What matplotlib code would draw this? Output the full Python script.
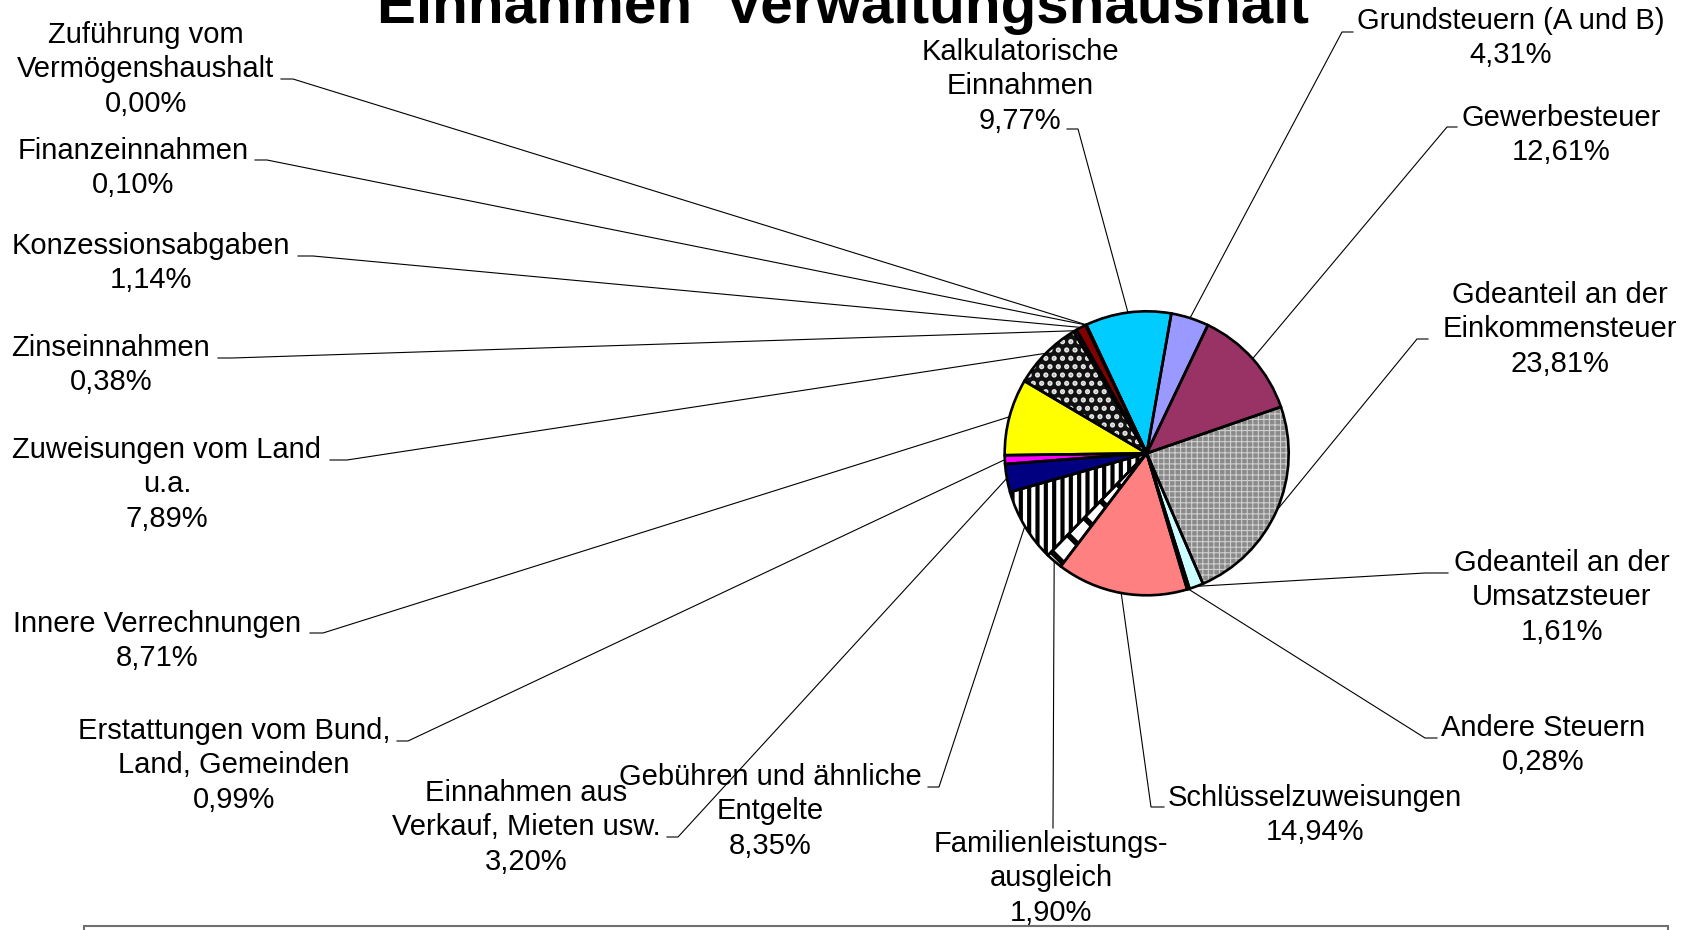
import matplotlib
matplotlib.use("Agg")
import matplotlib.pyplot as plt
from matplotlib.patches import Rectangle
import numpy as np

# ---- data (clockwise from the first slice) ----
categories = [
    "Grundsteuern (A und B)", "Gewerbesteuer", "Gdeanteil an der\nEinkommensteuer",
    "Gdeanteil an der\nUmsatzsteuer", "Andere Steuern", "Schlüsselzuweisungen",
    "Familienleistungs-\nausgleich", "Gebühren und ähnliche\nEntgelte",
    "Einnahmen aus\nVerkauf, Mieten usw.", "Erstattungen vom Bund,\nLand, Gemeinden",
    "Innere Verrechnungen", "Zuweisungen vom Land\nu.a.", "Zinseinnahmen",
    "Konzessionsabgaben", "Finanzeinnahmen", "Zuführung vom\nVermögenshaushalt",
    "Kalkulatorische\nEinnahmen",
]
values = [4.31, 12.61, 23.81, 1.61, 0.28, 14.94, 1.90, 8.35, 3.20, 0.99,
          8.71, 7.89, 0.38, 1.14, 0.10, 0.00, 9.77]
pct_labels = ["4,31%", "12,61%", "23,81%", "1,61%", "0,28%", "14,94%", "1,90%",
              "8,35%", "3,20%", "0,99%", "8,71%", "7,89%", "0,38%", "1,14%",
              "0,10%", "0,00%", "9,77%"]
title = "Einnahmen  Verwaltungshaushalt"

# ---- styles ----
face = ["#9999FF", "#993366", "#8A8A8A", "#CCFFFF", "#000080", "#FF8080",
        "#FFFFFF", "#FFFFFF", "#000080", "#FF00FF", "#FFFF00", "#111111",
        "#800080", "#800000", "#FF0000", "#FFFFFF", "#00CCFF"]
hatches = {2: ("+++", "#CFCFCF", 0.8), 6: ("\\", "#000000", 4.0),
           7: ("||", "#000000", 3.0), 11: ("..", "#E8E8E8", 2.5)}

# label layout (pixel coords from top-left): text centre x, first baseline y,
# leader anchor at label, elbow
layout = [
    (1511, 30, (1353, 32), (1342, 32)),
    (1561, 127, (1457, 127), (1447, 127)),
    (1560, 305, (1428, 339), (1417, 339)),
    (1562, 573, (1448, 573), (1425, 573)),
    (1543, 737, (1437, 738), (1425, 738)),
    (1315, 807, (1164, 807), (1151, 807)),
    (1051, 854, (1053, 828), (1053, 826)),
    (770, 787, (928, 787), (939, 787)),
    (526, 803, (667, 837), (678, 837)),
    (234, 741, (397, 741), (408, 741)),
    (157, 633, (310, 633), (323, 633)),
    (167, 460, (330, 460), (347, 460)),
    (111, 357, (218, 358), (232, 358)),
    (151, 255, (298, 256), (313, 256)),
    (133, 160, (255, 160), (267, 160)),
    (146, 45, (281, 79), (293, 79)),
    (1020, 62, (1067, 129), (1078, 129)),
]
LINE_STEP = 33.4

W, H = 1690, 930
fig = plt.figure(figsize=(W / 100, H / 100), dpi=100)
fig.patch.set_facecolor("white")
ax = fig.add_axes([0, 0, 1, 1])

cx, cy, R = 1146.7, H - 453.3, 142
wedges, _ = ax.pie(values, colors=face, startangle=80, counterclock=False,
                   center=(cx, cy), radius=R, wedgeprops=dict(linewidth=0))
for i, w in enumerate(wedges):
    if i in hatches:
        h, hc, hlw = hatches[i]
        w.set_hatch(h)
        w.set_edgecolor(hc)
        w.set_linewidth(0)
        if hasattr(w, "set_hatch_linewidth"):
            w.set_hatch_linewidth(hlw)
outl, _ = ax.pie(values, startangle=80, counterclock=False, center=(cx, cy),
                 radius=R, wedgeprops=dict(fill=False, edgecolor="black", linewidth=1.9))

ax.set_xlim(0, W)
ax.set_ylim(0, H)
ax.set_aspect("auto")
ax.axis("off")

font = "Liberation Sans"
for i, w in enumerate(wedges):
    tx, by, a, e = layout[i]
    s = categories[i] + "\n" + pct_labels[i]
    nlines = s.count("\n") + 1
    last_by = by + (nlines - 1) * LINE_STEP
    ax.text(tx, H - last_by, s, ha="center", va="baseline",
            fontsize=21, family=font, linespacing=1.29, color="black")
    th = np.deg2rad((w.theta1 + w.theta2) / 2)
    px, py = cx + R * np.cos(th), cy + R * np.sin(th)
    ax.plot([a[0], e[0], px], [H - a[1], H - e[1], py], color="black", lw=0.8,
            solid_joinstyle="miter")

ax.text(843, H - 23, title, ha="center", va="baseline", fontsize=42,
        fontweight="bold", family=font)

ax.add_patch(Rectangle((84, -20), 1668 - 84, H - 926 + 20, fill=False,
                       edgecolor="#707070", linewidth=1.5))

fig.savefig("out.png", dpi=100, facecolor="white")
